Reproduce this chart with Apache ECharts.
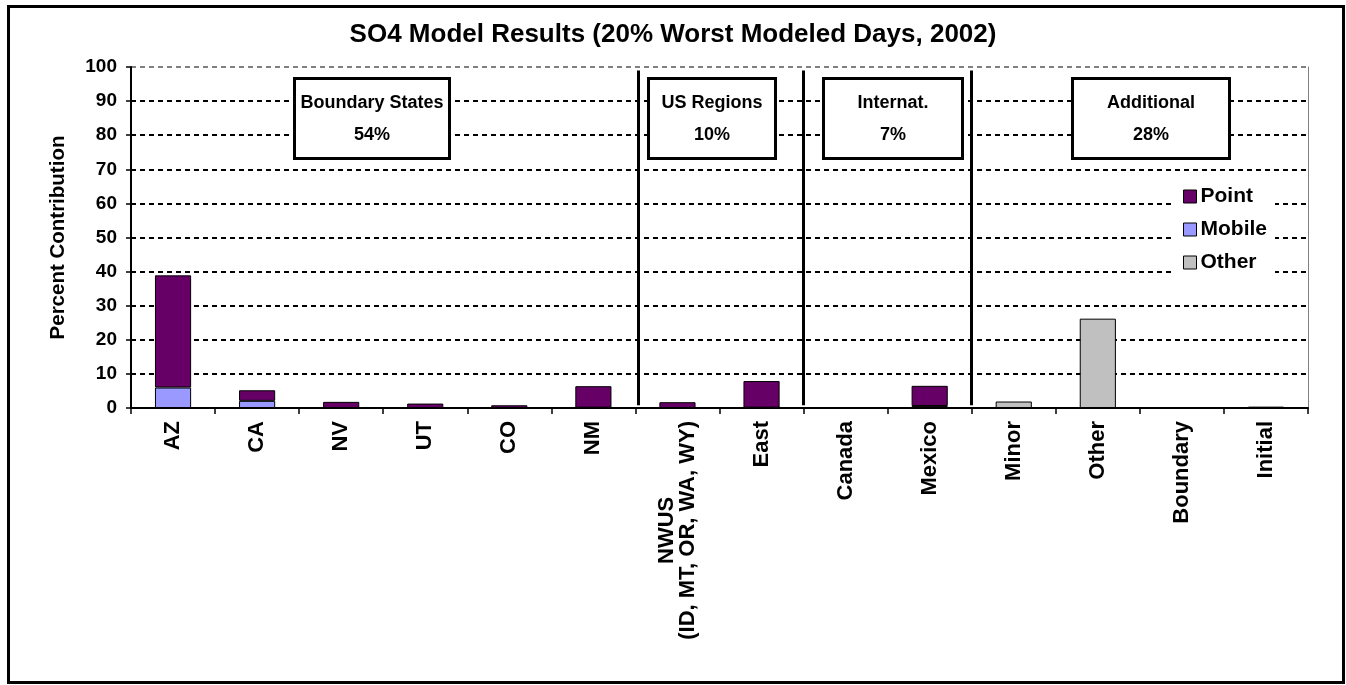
<!DOCTYPE html>
<html>
<head>
<meta charset="utf-8">
<script src="https://cdn.jsdelivr.net/npm/echarts@6/dist/echarts.min.js"></script>
<style>
html,body{margin:0;padding:0;background:#fff;}
#chart{width:1346px;height:685px;}
</style>
</head>
<body>
<div id="chart"></div>
<script>
// ---- data ----
var categories = ['AZ','CA','NV','UT','CO','NM','NWUS\n(ID, MT, OR, WA, WY)','East','Canada','Mexico','Minor','Other','Boundary','Initial'];
var pointValues  = [32.9, 3.1, 1.8, 1.3, 0.8, 6.3, 1.7, 7.8, null, 5.9, null, null, null, null];
var mobileValues = [6.0, 2.1, null, null, null, 0.1, null, 0.1, null, 0.6, null, null, null, null];
var otherValues  = [null, null, null, null, null, null, null, null, null, null, 1.9, 26.2, null, 0.4];
var yTicks = [0,10,20,30,40,50,60,70,80,90,100];
var separators = [6, 8, 10];
var groupNames = ['Boundary States', 'US Regions', 'Internat.', 'Additional'];
var groupPercents = ['54%', '10%', '7%', '28%'];
var titleText = 'SO4 Model Results (20% Worst Modeled Days, 2002)';
var yAxisTitle = 'Percent Contribution';

// ---- layout / style ----
var FONT = "'Liberation Sans', Arial, sans-serif";
var boxGeom = [
  {x: 293, w: 155},
  {x: 647, w: 127},
  {x: 822, w: 139},
  {x: 1071, w: 157}
];

var chart = echarts.init(document.getElementById('chart'), null, {renderer: 'canvas'});

var gridColors = yTicks.map(function (v, i) { return i === yTicks.length - 1 ? '#808080' : '#000'; });

var graphics = [
  {
    type: 'rect', left: 6, top: 4, z: 100,
    shape: {width: 1335, height: 676},
    style: {fill: 'none', stroke: '#000', lineWidth: 3}
  }
];
groupNames.forEach(function (name, i) {
  graphics.push({
    type: 'group', left: boxGeom[i].x, top: 77, z: 50,
    children: [
      {type: 'rect', z: 50, shape: {x: 0, y: 0, width: boxGeom[i].w, height: 80},
       style: {fill: '#fff', stroke: '#000', lineWidth: 3}},
      {type: 'text', z: 51, x: boxGeom[i].w / 2, y: 41,
       style: {text: name + '\n' + groupPercents[i], fill: '#000', font: 'bold 18px ' + FONT,
               align: 'center', verticalAlign: 'middle', lineHeight: 32}}
    ]
  });
});

var barBase = {
  type: 'bar', stack: 'total', barWidth: '43%',
  xAxisIndex: 0, yAxisIndex: 0
};

var option = {
  backgroundColor: '#fff',
  animation: false,
  textStyle: {fontFamily: FONT},
  title: {
    text: titleText, left: 'center', top: 17,
    textStyle: {fontSize: 26, fontWeight: 'bold', color: '#000', fontFamily: FONT}
  },
  legend: {
    orient: 'vertical', left: 1175, top: 180,
    data: ['Point', 'Mobile', 'Other'],
    itemWidth: 13, itemHeight: 13, itemGap: 12,
    icon: 'rect',
    padding: [6, 8, 6, 8],
    backgroundColor: '#fff',
    textStyle: {fontSize: 21, fontWeight: 'bold', color: '#000', fontFamily: FONT, padding: [0, 0, 0, -1]},
    itemStyle: {borderColor: '#000', borderWidth: 1},
    z: 20
  },
  grid: {left: 131, right: 38, top: 67, bottom: 277, containLabel: false},
  xAxis: [
    {
      type: 'category', data: categories, position: 'bottom',
      axisLine: {lineStyle: {color: '#000', width: 2}},
      axisTick: {show: true, alignWithLabel: false, length: 6, lineStyle: {color: '#000', width: 1.5}},
      axisLabel: {
        interval: 0, rotate: 90, margin: 13, color: '#000',
        fontSize: 22, fontWeight: 'bold', fontFamily: FONT,
        formatter: function (v) {
          if (v.indexOf('\n') >= 0) {
            return v.split('\n').map(function (s) { return '{c|' + s + '}'; }).join('\n');
          }
          return v;
        },
        rich: {c: {align: 'center', fontSize: 22, fontWeight: 'bold', fontFamily: FONT, color: '#000', lineHeight: 21}}
      },
      splitLine: {show: false}
    },
    {
      type: 'value', min: 0, max: categories.length, show: false, position: 'bottom'
    }
  ],
  yAxis: [
    {
      type: 'value', min: 0, max: 100, interval: 10,
      name: yAxisTitle, nameLocation: 'middle', nameGap: 62, nameRotate: 90,
      nameTextStyle: {fontSize: 20.5, fontWeight: 'bold', color: '#000', fontFamily: FONT},
      axisLine: {show: true, lineStyle: {color: '#000', width: 2}},
      axisTick: {show: true, length: 5, lineStyle: {color: '#000', width: 1.5}},
      axisLabel: {margin: 14, color: '#000', fontSize: 19, fontWeight: 'bold', fontFamily: FONT},
      splitLine: {show: true, lineStyle: {color: gridColors, width: 2, type: [5, 4]}}
    },
    {
      type: 'value', min: 0, max: 100, position: 'right',
      axisLine: {show: true, lineStyle: {color: '#808080', width: 1}},
      axisTick: {show: false}, axisLabel: {show: false}, splitLine: {show: false}
    }
  ],
  series: [
    Object.assign({}, barBase, {
      name: 'Mobile', data: mobileValues,
      itemStyle: {color: '#9999FF', borderColor: '#000', borderWidth: 1}
    }),
    Object.assign({}, barBase, {
      name: 'Point', data: pointValues,
      itemStyle: {color: '#660066', borderColor: '#000', borderWidth: 1}
    }),
    Object.assign({}, barBase, {
      name: 'Other', data: otherValues,
      itemStyle: {color: '#C0C0C0', borderColor: '#000', borderWidth: 1}
    }),
    {
      name: 'separators', type: 'line', xAxisIndex: 1, yAxisIndex: 0,
      data: separators.map(function (s) { return [s, null]; }),
      symbol: 'none', silent: true, z: 10,
      markLine: {
        silent: true, symbol: 'none', animation: false,
        label: {show: false},
        lineStyle: {color: '#000', width: 3, type: 'solid'},
        data: separators.map(function (s) { return [{coord: [s + (s === 6 ? 0.03 : 0), 0.8]}, {coord: [s + (s === 6 ? 0.03 : 0), 99]}]; })
      }
    }
  ],
  graphic: graphics
};

chart.setOption(option);
</script>
</body>
</html>
